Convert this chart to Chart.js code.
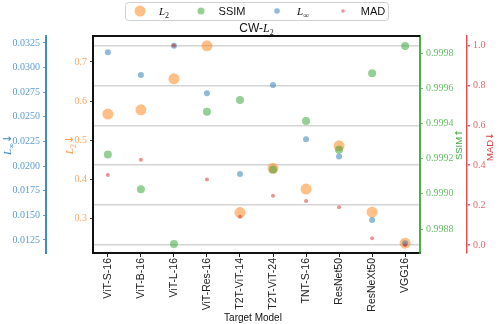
<!DOCTYPE html>
<html>
<head>
<meta charset="utf-8">
<script src="https://cdn.jsdelivr.net/npm/chart.js@4.4.0/dist/chart.umd.min.js"></script>
<style>
  html, body { margin: 0; padding: 0; background: #fff; }
  #wrap { width: 499px; height: 324px; }
</style>
</head>
<body>
<div id="wrap"><canvas id="chart" width="499" height="324"></canvas></div>
<script>
// categories
const models = ['ViT-S-16', 'ViT-B-16', 'ViT-L-16', 'ViT-Res-16', 'T2T-ViT-14',
  'T2T-ViT-24', 'TNT-S-16', 'ResNet50', 'ResNeXt50', 'VGG16'];

// series values
const l2Values = [0.567, 0.578, 0.657, 0.741, 0.316, 0.429, 0.376, 0.486, 0.317, 0.238];
const ssimValues = [0.999223, 0.999026, 0.998715, 0.999466, 0.999533, 0.999139, 0.999414, 0.999251, 0.999685, 0.99984];
const linfValues = [0.03156, 0.02925, 0.0322, 0.02739, 0.0192, 0.02824, 0.02272, 0.02096, 0.01453, 0.01216];
const madValues = [0.351, 0.428, 1.0, 0.329, 0.142, 0.247, 0.221, 0.189, 0.034, 0.0];

// tick labels
const linfTicks = [0.0125, 0.015, 0.0175, 0.02, 0.0225, 0.025, 0.0275, 0.03, 0.0325];
const l2Ticks = [0.3, 0.4, 0.5, 0.6, 0.7];
const ssimTicks = [0.9988, 0.999, 0.9992, 0.9994, 0.9996, 0.9998];
const madTicks = [0, 0.2, 0.4, 0.6, 0.8, 1.0];

const C = {
  orange: 'rgba(255,127,14,0.5)',
  green: 'rgba(44,160,44,0.5)',
  blue: 'rgba(31,119,180,0.5)',
  red: 'rgba(214,39,40,0.5)'
};

const SERIF = '"Liberation Serif", serif';
const SANS = '"Liberation Sans", sans-serif';

function pts(values) {
  return values.map((v, i) => ({ x: i, y: v }));
}

function fixedTicks(list) {
  return (scale) => { scale.ticks = list.map(v => ({ value: v })); };
}

// draw a run of text pieces: {t, f (font family), it (italic), sub}
function drawRich(ctx, parts, x, y, size, color) {
  const fontOf = (p) => `${p.it ? 'italic ' : ''}${p.sub ? Math.round(size * 0.7) : size}px ${p.f || SANS}`;
  let total = 0;
  parts.forEach(p => { ctx.font = fontOf(p); total += ctx.measureText(p.t).width; });
  let cx = x - total / 2;
  ctx.fillStyle = color;
  ctx.textBaseline = 'alphabetic';
  ctx.textAlign = 'left';
  parts.forEach(p => {
    ctx.font = fontOf(p);
    ctx.fillText(p.t, cx, y + (p.sub ? size * 0.25 : 0));
    cx += ctx.measureText(p.t).width;
  });
}

function drawVertical(ctx, parts, cx, cy, size, color) {
  ctx.save();
  ctx.translate(cx, cy);
  ctx.rotate(-Math.PI / 2);
  drawRich(ctx, parts, 0, size * 0.35, size, color);
  ctx.restore();
}

const decorations = {
  id: 'decorations',
  afterDraw(chart) {
    const { ctx, chartArea: a } = chart;
    ctx.save();
    // top frame line
    ctx.strokeStyle = '#111';
    ctx.lineWidth = 2;
    ctx.beginPath();
    ctx.moveTo(a.left, a.top);
    ctx.lineTo(a.right, a.top);
    ctx.stroke();

    // title
    drawRich(ctx, [{ t: 'CW-' }, { t: 'L', f: SERIF, it: true }, { t: '2', f: SERIF, sub: true }],
      (a.left + a.right) / 2, 32, 12, '#111');

    // x axis title
    drawRich(ctx, [{ t: 'Target Model' }], 253, 321, 10, '#111');

    // y axis titles
    const midY = (a.top + a.bottom) / 2;
    drawVertical(ctx, [{ t: 'L', f: SERIF, it: true }, { t: '\u221E', f: SERIF, sub: true }, { t: '\u2193', f: '"DejaVu Sans"' }],
      7, midY, 11, '#3d88c2');
    drawVertical(ctx, [{ t: 'L', f: SERIF, it: true }, { t: '2', f: SERIF, sub: true }, { t: '\u2193', f: '"DejaVu Sans"' }],
      69, midY, 11, '#ff9a45');
    drawVertical(ctx, [{ t: 'SSIM' }, { t: '\u2191', f: '"DejaVu Sans"' }],
      459, midY, 9.5, '#45a845');
    drawVertical(ctx, [{ t: 'MAD' }, { t: '\u2193', f: '"DejaVu Sans"' }],
      490, midY + 2, 9.5, '#d84040');

    // legend
    ctx.fillStyle = 'rgba(255,255,255,0.9)';
    ctx.strokeStyle = '#d0d0d0';
    ctx.lineWidth = 1;
    ctx.beginPath();
    ctx.roundRect(125.5, 2.5, 263, 18, 3);
    ctx.fill();
    ctx.stroke();
    const items = [
      { x: 140, r: 5.5, c: C.orange, label: [{ t: 'L', f: SERIF, it: true }, { t: '2', f: SERIF, sub: true }], lx: 164 },
      { x: 201, r: 3.5, c: C.green, label: [{ t: 'SSIM' }], lx: 232 },
      { x: 277, r: 2.8, c: C.blue, label: [{ t: 'L', f: SERIF, it: true }, { t: '\u221E', f: SERIF, sub: true }], lx: 303 },
      { x: 343, r: 1.8, c: C.red, label: [{ t: 'MAD' }], lx: 373 }
    ];
    items.forEach(it => {
      ctx.fillStyle = it.c;
      ctx.beginPath();
      ctx.arc(it.x, 11, it.r, 0, Math.PI * 2);
      ctx.fill();
      drawRich(ctx, it.label, it.lx, 15, 11, '#111');
    });
    ctx.restore();
  }
};

const ctx = document.getElementById('chart').getContext('2d');
new Chart(ctx, {
  type: 'scatter',
  data: {
    datasets: [
      { label: 'L2', data: pts(l2Values), yAxisID: 'yL2', backgroundColor: C.orange, pointRadius: 5.5, borderWidth: 0, order: 4 },
      { label: 'SSIM', data: pts(ssimValues), yAxisID: 'ySsim', backgroundColor: C.green, pointRadius: 4, borderWidth: 0, order: 3 },
      { label: 'Linf', data: pts(linfValues), yAxisID: 'yLinf', backgroundColor: C.blue, pointRadius: 3, borderWidth: 0, order: 2 },
      { label: 'MAD', data: pts(madValues), yAxisID: 'yMad', backgroundColor: C.red, pointRadius: 2, borderWidth: 0, order: 1 }
    ]
  },
  options: {
    responsive: false,
    animation: false,
    devicePixelRatio: 1,
    layout: { padding: { top: 36, left: 0, right: 0, bottom: 0 } },
    plugins: { legend: { display: false }, tooltip: { enabled: false }, title: { display: false } },
    scales: {
      x: {
        type: 'linear', position: 'bottom', min: -0.45, max: 9.45,
        afterBuildTicks: (s) => { s.ticks = models.map((_, i) => ({ value: i })); },
        afterFit: (s) => { s.height = 71; },
        ticks: {
          autoSkip: false, minRotation: 90, maxRotation: 90, padding: 1,
          font: { family: SANS, size: 10.5 }, color: '#222',
          callback: (v) => models[v]
        },
        grid: { drawOnChartArea: false, tickLength: 4, tickColor: '#222' },
        border: { color: '#111', width: 2 }
      },
      yL2: {
        position: 'left', min: 0.213, max: 0.766,
        afterBuildTicks: fixedTicks(l2Ticks),
        afterFit: (s) => { s.width = 47; },
        ticks: { padding: 3, font: { family: SERIF, size: 10 }, color: '#ffa860', callback: (v) => v.toFixed(1) },
        grid: { drawOnChartArea: false, tickLength: 3, tickColor: '#444' },
        border: { color: '#111', width: 2 }
      },
      yLinf: {
        position: 'left', min: 0.01118, max: 0.0332,
        afterBuildTicks: fixedTicks(linfTicks),
        afterFit: (s) => { s.width = 46; },
        ticks: { padding: 3, font: { family: SERIF, size: 10 }, color: '#5c9ed2', callback: (v) => v.toFixed(4) },
        grid: { drawOnChartArea: false, tickLength: 3, tickColor: '#5c9ed2' },
        border: { color: 'rgba(31,119,180,0.85)', width: 2 }
      },
      ySsim: {
        position: 'right', min: 0.998664, max: 0.9998966,
        afterBuildTicks: fixedTicks(ssimTicks),
        afterFit: (s) => { s.width = 47; },
        ticks: { padding: 3, font: { family: SERIF, size: 10 }, color: '#6cbd6c', callback: (v) => v.toFixed(4) },
        grid: { drawOnChartArea: false, tickLength: 3, tickColor: '#6cbd6c' },
        border: { color: 'rgba(44,160,44,0.85)', width: 2 }
      },
      yMad: {
        position: 'right', min: -0.04, max: 1.048,
        afterBuildTicks: fixedTicks(madTicks),
        afterFit: (s) => { s.width = 32; },
        ticks: { padding: 3, font: { family: SERIF, size: 10 }, color: '#e06a6a', callback: (v) => v.toFixed(1) },
        grid: { color: '#d4d4d4', lineWidth: 1.5, tickLength: 3, tickColor: '#e06a6a' },
        border: { color: 'rgba(214,39,40,0.8)', width: 1.5 }
      }
    }
  },
  plugins: [decorations]
});
</script>
</body>
</html>
